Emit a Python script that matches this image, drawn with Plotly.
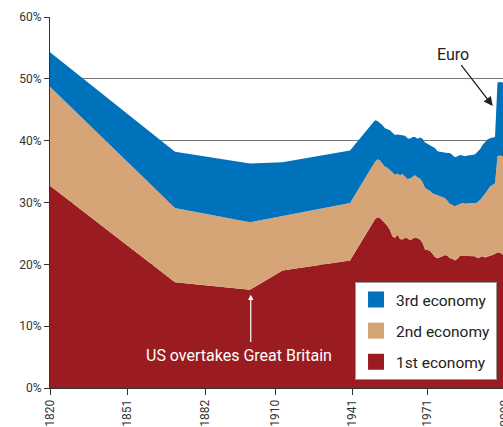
import plotly.graph_objects as go

years = [1820, 1870, 1900, 1913, 1940] + list(range(1950, 2004))

first_economy = [
    32.7, 17.1, 15.9, 19.0, 20.6,
    27.3, 27.6, 27.5, 27.1, 26.6, 26.2, 25.5, 24.5, 24.3, 24.8,
    24.1, 24.0, 24.3, 24.2, 23.9, 24.2, 24.4, 24.2, 24.0, 23.5,
    22.4, 22.3, 22.2, 21.7, 21.2, 21.0, 21.1, 21.3, 21.5, 21.4,
    21.0, 20.9, 20.6, 20.9, 21.4, 21.4, 21.4, 21.4, 21.3, 21.3,
    21.3, 21.0, 21.1, 21.3, 21.1, 21.3, 21.4, 21.5, 21.7, 21.9,
    21.9, 21.6, 21.5, 21.5,
]

second_economy = [
    16.0, 12.0, 10.9, 8.8, 9.3,
    9.3, 9.4, 9.3, 9.2, 9.2, 9.4, 9.7, 10.3, 10.2, 9.9,
    10.3, 10.6, 9.9, 9.6, 10.0, 10.0, 10.0, 9.9, 9.9, 9.8,
    10.0, 9.8, 9.7, 9.8, 10.1, 10.2, 9.9, 9.6, 9.2, 8.9,
    8.8, 8.7, 8.8, 8.7, 8.4, 8.5, 8.4, 8.5, 8.6, 8.6,
    8.6, 9.1, 9.3, 9.6, 10.3, 10.7, 11.2, 11.4, 11.4, 15.6,
    15.7, 15.9, 16.0, 16.1,
]

third_economy = [
    5.6, 9.1, 9.5, 8.7, 8.5,
    6.7, 6.2, 6.1, 6.2, 6.2, 6.2, 6.5, 6.5, 6.4, 6.3,
    6.5, 6.3, 6.6, 6.6, 6.4, 6.4, 6.2, 6.2, 6.6, 7.0,
    7.3, 7.4, 7.3, 7.5, 7.5, 7.1, 7.2, 7.2, 7.4, 7.7,
    8.2, 8.0, 7.9, 7.9, 7.9, 7.7, 7.7, 7.7, 7.7, 7.8,
    7.9, 8.1, 8.2, 8.4, 8.4, 8.2, 7.8, 7.6, 7.5, 11.9,
    11.9, 11.9, 12.0, 11.9,
]

x_tick_vals = [1820, 1851, 1882, 1910, 1941, 1971, 2002]
y_tick_vals = [0, 10, 20, 30, 40, 50, 60]
y_tick_text = ["0%", "10%", "20%", "30%", "40%", "50%", "60%"]

series = [
    ("1st economy", first_economy, "#9A1B20"),
    ("2nd economy", second_economy, "#D5A477"),
    ("3rd economy", third_economy, "#0071BB"),
]

FONT = "Roboto, 'Open Sans', Arial, sans-serif"

fig = go.Figure()
for name, vals, col in series:
    fig.add_trace(go.Scatter(
        x=years, y=vals, name=name, stackgroup="one", mode="lines",
        line=dict(width=0, color=col), fillcolor=col, showlegend=False,
        hoverinfo="skip",
    ))

for i, (name, vals, col) in enumerate(series):
    fig.add_trace(go.Scatter(
        x=[None], y=[None], name=name, mode="markers",
        marker=dict(symbol="square", size=18, color=col),
        legendgroup=name, legendrank=3 - i,
    ))

fig.add_annotation(
    x=1900.3, y=15.1, ax=1900.3, ay=7.2, xref="x", yref="y",
    axref="x", ayref="y", text="", showarrow=True,
    arrowhead=2, arrowsize=0.9, arrowwidth=1.2, arrowcolor="white",
)
fig.add_annotation(
    x=1895.6, y=5.3, xref="x", yref="y", text="US overtakes Great Britain",
    showarrow=False, font=dict(family=FONT, size=16, color="white"),
)
fig.add_annotation(
    x=1997.1, y=45.6, xref="x", yref="y", ax=-40, ay=-52,
    text="Euro", showarrow=True, standoff=0,
    arrowhead=2, arrowsize=1.4, arrowwidth=1.3, arrowcolor="#222",
    font=dict(family=FONT, size=16, color="#222"),
)

fig.update_layout(
    width=520, height=427,
    margin=dict(l=50, r=0, t=17, b=35),
    paper_bgcolor="white", plot_bgcolor="white",
    font=dict(family=FONT, size=12, color="#333"),
    showlegend=True,
    legend=dict(
        x=0.649, y=0.286, xanchor="left", yanchor="top",
        bgcolor="white", bordercolor="#999", borderwidth=1,
        font=dict(family=FONT, size=15.5, color="#222"),
        tracegroupgap=8, itemsizing="trace",
    ),
    xaxis=dict(
        range=[1820, 2008], tickvals=x_tick_vals, tickangle=-90,
        ticks="outside", ticklen=6, tickcolor="#333",
        showline=True, linecolor="#333", linewidth=1,
        showgrid=False, zeroline=False, ticklabeloverflow="allow",
        tickfont=dict(size=12, color="#333"),
    ),
    yaxis=dict(
        range=[0, 60], tickvals=y_tick_vals, ticktext=y_tick_text,
        ticks="outside", ticklen=5, tickcolor="#333",
        showline=True, linecolor="#333", linewidth=1,
        showgrid=True, gridcolor="#777", gridwidth=1.3, zeroline=False,
        tickfont=dict(size=12, color="#333"),
    ),
)

page_fix = (
    "document.body.style.margin='0';"
    "document.body.style.overflow='hidden';"
    "document.documentElement.style.overflow='hidden';"
)

fig.write_html("out.html", post_script=page_fix,
               config={"displayModeBar": False})
